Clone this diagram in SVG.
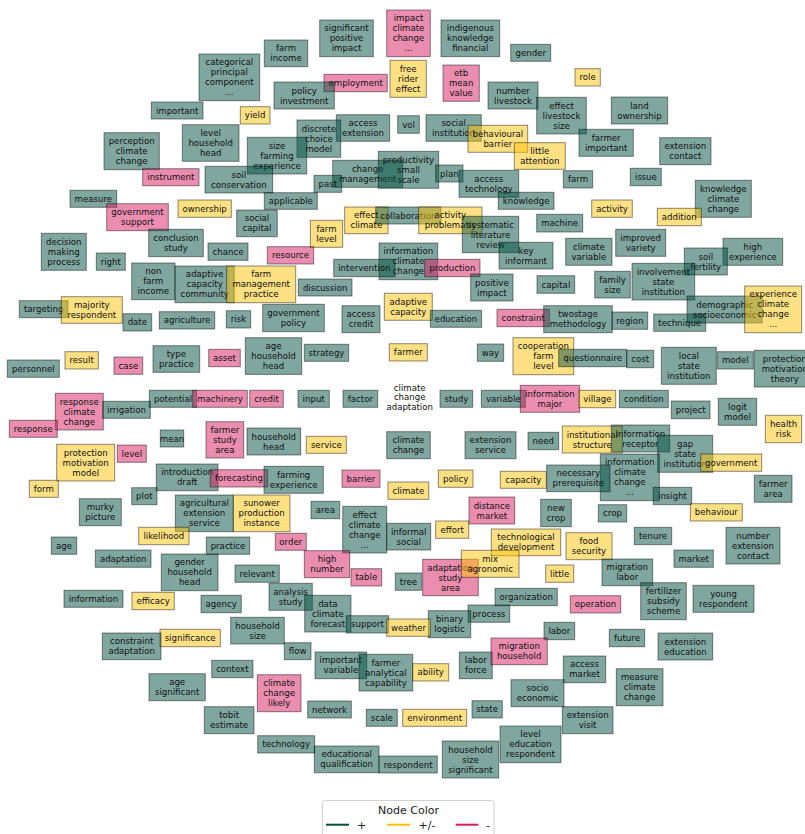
<svg xmlns="http://www.w3.org/2000/svg" width="805" height="834" viewBox="0 0 805 834">
<style>
.g,.y,.p{stroke:#000;stroke-opacity:.45;stroke-width:1}
.g{fill:#004d40;fill-opacity:.5}
.y{fill:#ffc107;fill-opacity:.5}
.p{fill:#d81b60;fill-opacity:.5}
text{font-family:"DejaVu Sans","Liberation Sans",sans-serif;font-size:8.6px;fill:#111;text-anchor:middle}
text.lg{font-size:11px;fill:#222}
</style>
<rect width="805" height="834" fill="#fff"/>
<g id="connectors"></g>
<g id="nodes">
<g id="farm-income"><rect class="g" x="264.3" y="40" width="43.4" height="26.7"/><text x="286" y="51.35">farm<tspan x="286" dy="10">income</tspan></text></g>
<g id="significant-positive-impact"><rect class="g" x="319.7" y="20" width="53.6" height="36.7"/><text x="346.5" y="31.35">significant<tspan x="346.5" dy="10">positive</tspan><tspan x="346.5" dy="10">impact</tspan></text></g>
<g id="impact-climate-change"><rect class="p" x="386.7" y="10" width="43.6" height="46.7"/><text x="408.5" y="21.35">impact<tspan x="408.5" dy="10">climate</tspan><tspan x="408.5" dy="10">change</tspan><tspan x="408.5" dy="10">...</tspan></text></g>
<g id="indigenous-knowledge-financial"><rect class="g" x="441" y="20" width="58.7" height="36.7"/><text x="470.35" y="31.35">indigenous<tspan x="470.35" dy="10">knowledge</tspan><tspan x="470.35" dy="10">financial</tspan></text></g>
<g id="gender"><rect class="g" x="510.7" y="44.3" width="40" height="17"/><text x="530.7" y="55.8">gender</text></g>
<g id="categorical-principal-component"><rect class="g" x="199" y="54" width="60.7" height="46.7"/><text x="229.35" y="65.35">categorical<tspan x="229.35" dy="10">principal</tspan><tspan x="229.35" dy="10">component</tspan><tspan x="229.35" dy="10">...</tspan></text></g>
<g id="employment"><rect class="p" x="324" y="74.3" width="63.3" height="17.4"/><text x="355.65" y="86">employment</text></g>
<g id="free-rider-effect"><rect class="y" x="390" y="60.3" width="36.3" height="37"/><text x="408.15" y="71.8">free<tspan x="408.15" dy="10">rider</tspan><tspan x="408.15" dy="10">effect</tspan></text></g>
<g id="etb-mean-value"><rect class="p" x="443" y="65" width="36.3" height="36.3"/><text x="461.15" y="76.15">etb<tspan x="461.15" dy="10">mean</tspan><tspan x="461.15" dy="10">value</tspan></text></g>
<g id="role"><rect class="y" x="575" y="68.7" width="25.3" height="17.3"/><text x="587.65" y="80.35">role</text></g>
<g id="policy-investment"><rect class="g" x="274" y="82" width="60.3" height="27"/><text x="304.15" y="93.5">policy<tspan x="304.15" dy="10">investment</tspan></text></g>
<g id="number-livestock"><rect class="g" x="488" y="82" width="50" height="27"/><text x="513" y="93.5">number<tspan x="513" dy="10">livestock</tspan></text></g>
<g id="important"><rect class="g" x="151.3" y="102" width="51.7" height="17"/><text x="177.15" y="113.5">important</text></g>
<g id="yield"><rect class="y" x="240.3" y="106.7" width="29.7" height="17.3"/><text x="255.15" y="118.35">yield</text></g>
<g id="effect-livestock-size"><rect class="g" x="536.7" y="97.3" width="49.6" height="36.7"/><text x="561.5" y="108.65">effect<tspan x="561.5" dy="10">livestock</tspan><tspan x="561.5" dy="10">size</tspan></text></g>
<g id="land-ownership"><rect class="g" x="611.3" y="97" width="56.4" height="27"/><text x="639.5" y="108.5">land<tspan x="639.5" dy="10">ownership</tspan></text></g>
<g id="access-extension"><rect class="g" x="336.3" y="114.7" width="53.4" height="26.6"/><text x="363" y="126">access<tspan x="363" dy="10">extension</tspan></text></g>
<g id="vol"><rect class="g" x="397.7" y="115.7" width="21.6" height="17.6"/><text x="408.5" y="127.5">vol</text></g>
<g id="social-institution"><rect class="g" x="426" y="114.7" width="55.3" height="26.6"/><text x="453.65" y="126">social<tspan x="453.65" dy="10">institution</tspan></text></g>
<g id="behavioural-barrier"><rect class="y" x="468" y="125.3" width="59.7" height="27"/><text x="497.85" y="136.8">behavioural<tspan x="497.85" dy="10">barrier</tspan></text></g>
<g id="discrete-choice-model"><rect class="g" x="297" y="120" width="43.7" height="37.3"/><text x="318.85" y="131.65">discrete<tspan x="318.85" dy="10">choice</tspan><tspan x="318.85" dy="10">model</tspan></text></g>
<g id="level-household-head"><rect class="g" x="182.3" y="124.7" width="56.7" height="36.6"/><text x="210.65" y="136">level<tspan x="210.65" dy="10">household</tspan><tspan x="210.65" dy="10">head</tspan></text></g>
<g id="perception-climate-change"><rect class="g" x="104" y="132.7" width="55.3" height="37"/><text x="131.65" y="144.2">perception<tspan x="131.65" dy="10">climate</tspan><tspan x="131.65" dy="10">change</tspan></text></g>
<g id="size-farming-experience"><rect class="g" x="247.3" y="137.3" width="59.4" height="36.7"/><text x="277" y="148.65">size<tspan x="277" dy="10">farming</tspan><tspan x="277" dy="10">experience</tspan></text></g>
<g id="farmer-important"><rect class="g" x="579" y="129.3" width="54.3" height="27"/><text x="606.15" y="140.8">farmer<tspan x="606.15" dy="10">important</tspan></text></g>
<g id="extension-contact"><rect class="g" x="659.7" y="137.7" width="51.3" height="27"/><text x="685.35" y="149.2">extension<tspan x="685.35" dy="10">contact</tspan></text></g>
<g id="little-attention"><rect class="y" x="514.3" y="142.7" width="51" height="26.6"/><text x="539.8" y="154">little<tspan x="539.8" dy="10">attention</tspan></text></g>
<g id="change-management"><rect class="g" x="332.7" y="160.3" width="70" height="27"/><text x="367.7" y="171.8">change<tspan x="367.7" dy="10">management</tspan></text></g>
<g id="productivity-small-scale"><rect class="g" x="378.3" y="151.3" width="60.4" height="37"/><text x="408.5" y="162.8">productivity<tspan x="408.5" dy="10">small</tspan><tspan x="408.5" dy="10">scale</tspan></text></g>
<g id="plan"><rect class="g" x="435.7" y="165" width="27.3" height="17"/><text x="449.35" y="176.5">plan</text></g>
<g id="access-technology"><rect class="g" x="459" y="170.3" width="59.7" height="27"/><text x="488.85" y="181.8">access<tspan x="488.85" dy="10">technology</tspan></text></g>
<g id="farm"><rect class="g" x="563.3" y="170.7" width="29.4" height="17.3"/><text x="578" y="182.35">farm</text></g>
<g id="issue"><rect class="g" x="630.3" y="168.3" width="31" height="17.4"/><text x="645.8" y="180">issue</text></g>
<g id="instrument"><rect class="p" x="142.7" y="168.7" width="56.3" height="17"/><text x="170.85" y="180.2">instrument</text></g>
<g id="soil-conservation"><rect class="g" x="205" y="166.3" width="67.7" height="26.7"/><text x="238.85" y="177.65">soil<tspan x="238.85" dy="10">conservation</tspan></text></g>
<g id="past"><rect class="g" x="314" y="175.3" width="27.7" height="17"/><text x="327.85" y="186.8">past</text></g>
<g id="measure"><rect class="g" x="70" y="190.3" width="46.7" height="17"/><text x="93.35" y="201.8">measure</text></g>
<g id="applicable"><rect class="g" x="264.3" y="192.7" width="53" height="16.6"/><text x="290.8" y="204">applicable</text></g>
<g id="knowledge"><rect class="g" x="498.3" y="192.3" width="55.7" height="17"/><text x="526.15" y="203.8">knowledge</text></g>
<g id="knowledge-climate-change"><rect class="g" x="695.3" y="180.3" width="56" height="37"/><text x="723.3" y="191.8">knowledge<tspan x="723.3" dy="10">climate</tspan><tspan x="723.3" dy="10">change</tspan></text></g>
<g id="government-support"><rect class="p" x="106.7" y="203.7" width="61.6" height="27"/><text x="137.5" y="215.2">government<tspan x="137.5" dy="10">support</tspan></text></g>
<g id="ownership"><rect class="y" x="178" y="200" width="53.3" height="17.3"/><text x="204.65" y="211.65">ownership</text></g>
<g id="effect-climate"><rect class="y" x="344.7" y="207" width="43.3" height="26.7"/><text x="366.35" y="218.35">effect<tspan x="366.35" dy="10">climate</tspan></text></g>
<g id="collaboration"><rect class="g" x="375.7" y="207" width="65.3" height="17"/><text x="408.35" y="218.5">collaboration</text></g>
<g id="activity-problematic"><rect class="y" x="418.7" y="207" width="63.3" height="26.7"/><text x="450.35" y="218.35">activity<tspan x="450.35" dy="10">problematic</tspan></text></g>
<g id="activity"><rect class="y" x="591.7" y="200" width="40.6" height="17.3"/><text x="612" y="211.65">activity</text></g>
<g id="addition"><rect class="y" x="657.3" y="208.3" width="44" height="17.4"/><text x="679.3" y="220">addition</text></g>
<g id="machine"><rect class="g" x="536.7" y="214.3" width="46" height="17.7"/><text x="559.7" y="226.15">machine</text></g>
<g id="systematic-literature-review"><rect class="g" x="462.3" y="216.3" width="56.4" height="36.4"/><text x="490.5" y="227.5">systematic<tspan x="490.5" dy="10">literature</tspan><tspan x="490.5" dy="10">review</tspan></text></g>
<g id="social-capital"><rect class="g" x="236.7" y="210" width="40.6" height="26.7"/><text x="257" y="221.35">social<tspan x="257" dy="10">capital</tspan></text></g>
<g id="farm-level"><rect class="y" x="310.3" y="220.3" width="32.4" height="27"/><text x="326.5" y="231.8">farm<tspan x="326.5" dy="10">level</tspan></text></g>
<g id="conclusion-study"><rect class="g" x="148.7" y="229.3" width="54.6" height="27.4"/><text x="176" y="241">conclusion<tspan x="176" dy="10">study</tspan></text></g>
<g id="decision-making-process"><rect class="g" x="41.3" y="233.3" width="45" height="37"/><text x="63.8" y="244.8">decision<tspan x="63.8" dy="10">making</tspan><tspan x="63.8" dy="10">process</tspan></text></g>
<g id="chance"><rect class="g" x="208" y="243" width="40" height="17.3"/><text x="228" y="254.65">chance</text></g>
<g id="resource"><rect class="p" x="267.3" y="246.7" width="46.4" height="17.3"/><text x="290.5" y="258.35">resource</text></g>
<g id="improved-variety"><rect class="g" x="615.7" y="229.3" width="50" height="27"/><text x="640.7" y="240.8">improved<tspan x="640.7" dy="10">variety</tspan></text></g>
<g id="climate-variable"><rect class="g" x="565.7" y="238.3" width="46.3" height="27"/><text x="588.85" y="249.8">climate<tspan x="588.85" dy="10">variable</tspan></text></g>
<g id="key-informant"><rect class="g" x="499" y="242.3" width="54" height="26.7"/><text x="526" y="253.65">key<tspan x="526" dy="10">informant</tspan></text></g>
<g id="high-experience"><rect class="g" x="723" y="238.3" width="59.7" height="27"/><text x="752.85" y="249.8">high<tspan x="752.85" dy="10">experience</tspan></text></g>
<g id="information-climate-change"><rect class="g" x="379" y="243" width="58.7" height="36.7"/><text x="408.35" y="254.35">information<tspan x="408.35" dy="10">climate</tspan><tspan x="408.35" dy="10">change</tspan></text></g>
<g id="production"><rect class="p" x="424.7" y="259.3" width="55.3" height="17.4"/><text x="452.35" y="271">production</text></g>
<g id="soil-fertility"><rect class="g" x="684.3" y="248" width="43" height="27"/><text x="705.8" y="259.5">soil<tspan x="705.8" dy="10">fertility</tspan></text></g>
<g id="right"><rect class="g" x="96.3" y="253" width="29" height="17.3"/><text x="110.8" y="264.65">right</text></g>
<g id="intervention"><rect class="g" x="333.7" y="259.3" width="61.3" height="17.4"/><text x="364.35" y="271">intervention</text></g>
<g id="non-farm-income"><rect class="g" x="131.7" y="263" width="43.3" height="36.7"/><text x="153.35" y="274.35">non<tspan x="153.35" dy="10">farm</tspan><tspan x="153.35" dy="10">income</tspan></text></g>
<g id="adaptive-capacity-community"><rect class="g" x="175" y="266" width="59.3" height="36.7"/><text x="204.65" y="277.35">adaptive<tspan x="204.65" dy="10">capacity</tspan><tspan x="204.65" dy="10">community</tspan></text></g>
<g id="farm-management-practice"><rect class="y" x="226.7" y="266" width="69" height="36.7"/><text x="261.2" y="277.35">farm<tspan x="261.2" dy="10">management</tspan><tspan x="261.2" dy="10">practice</tspan></text></g>
<g id="discussion"><rect class="g" x="298.3" y="279" width="53.7" height="17"/><text x="325.15" y="290.5">discussion</text></g>
<g id="positive-impact"><rect class="g" x="470.7" y="274" width="42.3" height="27"/><text x="491.85" y="285.5">positive<tspan x="491.85" dy="10">impact</tspan></text></g>
<g id="capital"><rect class="g" x="537" y="275.7" width="37.7" height="17.6"/><text x="555.85" y="287.5">capital</text></g>
<g id="family-size"><rect class="g" x="594.7" y="271.3" width="35.6" height="26.7"/><text x="612.5" y="282.65">family<tspan x="612.5" dy="10">size</tspan></text></g>
<g id="involvement-state-institution"><rect class="g" x="632" y="263.3" width="62.7" height="36.7"/><text x="663.35" y="274.65">involvement<tspan x="663.35" dy="10">state</tspan><tspan x="663.35" dy="10">institution</tspan></text></g>
<g id="targeting"><rect class="g" x="19.3" y="300.7" width="48.7" height="17"/><text x="43.65" y="312.2">targeting</text></g>
<g id="majority-respondent"><rect class="y" x="61.3" y="296.7" width="61" height="26.6"/><text x="91.8" y="308">majority<tspan x="91.8" dy="10">respondent</tspan></text></g>
<g id="date"><rect class="g" x="123" y="313.7" width="28.7" height="17.3"/><text x="137.35" y="325.35">date</text></g>
<g id="agriculture"><rect class="g" x="159.3" y="311.7" width="55.4" height="17.3"/><text x="187" y="323.35">agriculture</text></g>
<g id="risk"><rect class="g" x="226.3" y="310.7" width="24.4" height="17.3"/><text x="238.5" y="322.35">risk</text></g>
<g id="government-policy"><rect class="g" x="262.7" y="304.3" width="61.6" height="27.4"/><text x="293.5" y="316">government<tspan x="293.5" dy="10">policy</tspan></text></g>
<g id="access-credit"><rect class="g" x="342" y="305.7" width="38" height="27"/><text x="361" y="317.2">access<tspan x="361" dy="10">credit</tspan></text></g>
<g id="adaptive-capacity"><rect class="y" x="384.3" y="293.3" width="48" height="27"/><text x="408.3" y="304.8">adaptive<tspan x="408.3" dy="10">capacity</tspan></text></g>
<g id="education"><rect class="g" x="430.3" y="310.3" width="51.3" height="17"/><text x="455.95" y="321.8">education</text></g>
<g id="constraint"><rect class="p" x="497" y="309.3" width="52.3" height="17.4"/><text x="523.15" y="321">constraint</text></g>
<g id="twostage-methodology"><rect class="g" x="543.7" y="305.7" width="68.6" height="27"/><text x="578" y="317.2">twostage<tspan x="578" dy="10">methodology</tspan></text></g>
<g id="region"><rect class="g" x="612" y="312" width="35.7" height="17.3"/><text x="629.85" y="323.65">region</text></g>
<g id="technique"><rect class="g" x="653.7" y="314" width="52" height="17.3"/><text x="679.7" y="325.65">technique</text></g>
<g id="demographic-socioeconomic"><rect class="g" x="687" y="296" width="75.3" height="27"/><text x="724.65" y="307.5">demographic<tspan x="724.65" dy="10">socioeconomic</tspan></text></g>
<g id="experience-climate-change"><rect class="y" x="744.7" y="286" width="57" height="46.7"/><text x="773.2" y="297.35">experience<tspan x="773.2" dy="10">climate</tspan><tspan x="773.2" dy="10">change</tspan><tspan x="773.2" dy="10">...</tspan></text></g>
<g id="personnel"><rect class="g" x="7.3" y="360" width="52" height="17.3"/><text x="33.3" y="371.65">personnel</text></g>
<g id="result"><rect class="y" x="65" y="351.7" width="33.3" height="17.3"/><text x="81.65" y="363.35">result</text></g>
<g id="case"><rect class="p" x="114" y="357" width="28.7" height="17.3"/><text x="128.35" y="368.65">case</text></g>
<g id="type-practice"><rect class="g" x="153" y="345.7" width="46.7" height="26.6"/><text x="176.35" y="357">type<tspan x="176.35" dy="10">practice</tspan></text></g>
<g id="asset"><rect class="p" x="208.7" y="349.3" width="31.6" height="17.4"/><text x="224.5" y="361">asset</text></g>
<g id="age-household-head"><rect class="g" x="245.3" y="337.7" width="56.4" height="36.7"/><text x="273.5" y="349.05">age<tspan x="273.5" dy="10">household</tspan><tspan x="273.5" dy="10">head</tspan></text></g>
<g id="strategy"><rect class="g" x="304.3" y="344.3" width="44.4" height="17"/><text x="326.5" y="355.8">strategy</text></g>
<g id="farmer"><rect class="y" x="389.3" y="343.7" width="38" height="17.3"/><text x="408.3" y="355.35">farmer</text></g>
<g id="way"><rect class="g" x="477.3" y="344" width="26.4" height="17.3"/><text x="490.5" y="355.65">way</text></g>
<g id="cooperation-farm-level"><rect class="y" x="513" y="337.7" width="60.7" height="37"/><text x="543.35" y="349.2">cooperation<tspan x="543.35" dy="10">farm</tspan><tspan x="543.35" dy="10">level</tspan></text></g>
<g id="questionnaire"><rect class="g" x="558.7" y="349.3" width="68" height="17.4"/><text x="592.7" y="361">questionnaire</text></g>
<g id="cost"><rect class="g" x="626.7" y="350.3" width="27" height="17.4"/><text x="640.2" y="362">cost</text></g>
<g id="local-state-institution"><rect class="g" x="661.3" y="347.3" width="55" height="37"/><text x="688.8" y="358.8">local<tspan x="688.8" dy="10">state</tspan><tspan x="688.8" dy="10">institution</tspan></text></g>
<g id="model"><rect class="g" x="717.3" y="351.7" width="36" height="17.3"/><text x="735.3" y="363.35">model</text></g>
<g id="protection-motivation-theory"><rect class="g" x="754.3" y="350.3" width="61" height="36.7"/><text x="784.8" y="361.65">protection<tspan x="784.8" dy="10">motivation</tspan><tspan x="784.8" dy="10">theory</tspan></text></g>
<g id="response-climate-change"><rect class="p" x="55.3" y="393.3" width="48" height="36.7"/><text x="79.3" y="404.65">response<tspan x="79.3" dy="10">climate</tspan><tspan x="79.3" dy="10">change</tspan></text></g>
<g id="irrigation"><rect class="g" x="102.7" y="401.3" width="47.6" height="17"/><text x="126.5" y="412.8">irrigation</text></g>
<g id="response"><rect class="p" x="9.3" y="420.3" width="48" height="17"/><text x="33.3" y="431.8">response</text></g>
<g id="potential"><rect class="g" x="149.3" y="390.3" width="47.4" height="17"/><text x="173" y="401.8">potential</text></g>
<g id="machinery"><rect class="p" x="192.7" y="390.3" width="54.6" height="17"/><text x="220" y="401.8">machinery</text></g>
<g id="credit"><rect class="p" x="249.7" y="390.3" width="33.6" height="17"/><text x="266.5" y="401.8">credit</text></g>
<g id="input"><rect class="g" x="298" y="390.3" width="31.3" height="17"/><text x="313.65" y="401.8">input</text></g>
<g id="factor"><rect class="g" x="343" y="390.3" width="34.7" height="17"/><text x="360.35" y="401.8">factor</text></g>
<g id="climate-change-adaptation"><text x="409.7" y="390.6">climate<tspan x="409.7" dy="9.8">change</tspan><tspan x="409.7" dy="9.8">adaptation</tspan></text></g>
<g id="study"><rect class="g" x="440" y="390.3" width="32.7" height="17"/><text x="456.35" y="401.8">study</text></g>
<g id="variable"><rect class="g" x="481.3" y="390.3" width="44" height="17"/><text x="503.3" y="401.8">variable</text></g>
<g id="information-major"><rect class="p" x="520.3" y="385.3" width="59.4" height="27"/><text x="550" y="396.8">information<tspan x="550" dy="10">major</tspan></text></g>
<g id="village"><rect class="y" x="579" y="390.3" width="36.7" height="17.4"/><text x="597.35" y="402">village</text></g>
<g id="condition"><rect class="g" x="619.3" y="390.3" width="49" height="17.4"/><text x="643.8" y="402">condition</text></g>
<g id="project"><rect class="g" x="671.3" y="401" width="38.7" height="17.7"/><text x="690.65" y="412.85">project</text></g>
<g id="logit-model"><rect class="g" x="718.3" y="398.3" width="38.4" height="27"/><text x="737.5" y="409.8">logit<tspan x="737.5" dy="10">model</tspan></text></g>
<g id="health-risk"><rect class="y" x="765.3" y="415.3" width="36.4" height="27.4"/><text x="783.5" y="427">health<tspan x="783.5" dy="10">risk</tspan></text></g>
<g id="mean"><rect class="g" x="160.3" y="430" width="23.4" height="17"/><text x="172" y="441.5">mean</text></g>
<g id="farmer-study-area"><rect class="p" x="206" y="421.7" width="37.7" height="36.3"/><text x="224.85" y="432.85">farmer<tspan x="224.85" dy="10">study</tspan><tspan x="224.85" dy="10">area</tspan></text></g>
<g id="household-head"><rect class="g" x="247" y="428" width="53.7" height="27"/><text x="273.85" y="439.5">household<tspan x="273.85" dy="10">head</tspan></text></g>
<g id="service"><rect class="y" x="306.3" y="436.3" width="40" height="17"/><text x="326.3" y="447.8">service</text></g>
<g id="climate-change"><rect class="g" x="386.7" y="431.7" width="43.6" height="27"/><text x="408.5" y="443.2">climate<tspan x="408.5" dy="10">change</tspan></text></g>
<g id="extension-service"><rect class="g" x="465" y="431.7" width="51" height="27"/><text x="490.5" y="443.2">extension<tspan x="490.5" dy="10">service</tspan></text></g>
<g id="need"><rect class="g" x="528" y="432.3" width="30.7" height="17.4"/><text x="543.35" y="444">need</text></g>
<g id="institutional-structure"><rect class="y" x="562.3" y="426" width="60" height="27"/><text x="592.3" y="437.5">institutional<tspan x="592.3" dy="10">structure</tspan></text></g>
<g id="information-receptor"><rect class="g" x="611.3" y="425" width="58.4" height="27"/><text x="640.5" y="436.5">information<tspan x="640.5" dy="10">receptor</tspan></text></g>
<g id="gap-state-institution"><rect class="g" x="657.7" y="435.3" width="55" height="37"/><text x="685.2" y="446.8">gap<tspan x="685.2" dy="10">state</tspan><tspan x="685.2" dy="10">institution</tspan></text></g>
<g id="government"><rect class="y" x="700.7" y="454" width="61" height="17.3"/><text x="731.2" y="465.65">government</text></g>
<g id="information-climate-change-more"><rect class="g" x="600.3" y="454" width="59" height="46.7"/><text x="629.8" y="465.35">information<tspan x="629.8" dy="10">climate</tspan><tspan x="629.8" dy="10">change</tspan><tspan x="629.8" dy="10">...</tspan></text></g>
<g id="necessary-prerequisite"><rect class="g" x="546.7" y="465" width="63.3" height="26.7"/><text x="578.35" y="476.35">necessary<tspan x="578.35" dy="10">prerequisite</tspan></text></g>
<g id="capacity"><rect class="y" x="500.3" y="471.3" width="46" height="17"/><text x="523.3" y="482.8">capacity</text></g>
<g id="insight"><rect class="g" x="653.3" y="487.3" width="38.4" height="17.4"/><text x="672.5" y="499">insight</text></g>
<g id="behaviour"><rect class="y" x="690.3" y="503.7" width="52" height="17.3"/><text x="716.3" y="515.35">behaviour</text></g>
<g id="farmer-area"><rect class="g" x="754.3" y="475.3" width="37.7" height="27"/><text x="773.15" y="486.8">farmer<tspan x="773.15" dy="10">area</tspan></text></g>
<g id="new-crop"><rect class="g" x="540.7" y="499.3" width="30.6" height="27.4"/><text x="556" y="511">new<tspan x="556" dy="10">crop</tspan></text></g>
<g id="crop"><rect class="g" x="598.3" y="504.7" width="28.4" height="17.3"/><text x="612.5" y="516.35">crop</text></g>
<g id="tenure"><rect class="g" x="634.3" y="527.3" width="37.4" height="17.4"/><text x="653" y="539">tenure</text></g>
<g id="number-extension-contact"><rect class="g" x="726" y="527.3" width="54" height="36.7"/><text x="753" y="538.65">number<tspan x="753" dy="10">extension</tspan><tspan x="753" dy="10">contact</tspan></text></g>
<g id="protection-motivation-model"><rect class="y" x="56.7" y="444.3" width="58" height="36.7"/><text x="85.7" y="455.65">protection<tspan x="85.7" dy="10">motivation</tspan><tspan x="85.7" dy="10">model</tspan></text></g>
<g id="level"><rect class="p" x="117.3" y="445" width="29" height="17.3"/><text x="131.8" y="456.65">level</text></g>
<g id="form"><rect class="y" x="29.3" y="480.3" width="29" height="17"/><text x="43.8" y="491.8">form</text></g>
<g id="introduction-draft"><rect class="g" x="156.3" y="464" width="61.7" height="26.7"/><text x="187.15" y="475.35">introduction<tspan x="187.15" dy="10">draft</tspan></text></g>
<g id="forecasting"><rect class="p" x="210.3" y="469.7" width="57.4" height="17.3"/><text x="239" y="481.35">forecasting</text></g>
<g id="farming-experience"><rect class="g" x="264" y="466.3" width="59.3" height="27"/><text x="293.65" y="477.8">farming<tspan x="293.65" dy="10">experience</tspan></text></g>
<g id="barrier"><rect class="p" x="342" y="470" width="38" height="17.3"/><text x="361" y="481.65">barrier</text></g>
<g id="policy"><rect class="y" x="438.3" y="470" width="34.7" height="17.3"/><text x="455.65" y="481.65">policy</text></g>
<g id="climate"><rect class="y" x="388" y="482" width="40.7" height="17.3"/><text x="408.35" y="493.65">climate</text></g>
<g id="distance-market"><rect class="p" x="469" y="497" width="45.7" height="27"/><text x="491.85" y="508.5">distance<tspan x="491.85" dy="10">market</tspan></text></g>
<g id="plot"><rect class="g" x="131.7" y="487.7" width="25.3" height="17"/><text x="144.35" y="499.2">plot</text></g>
<g id="murky-picture"><rect class="g" x="79.3" y="498.7" width="42" height="27"/><text x="100.3" y="510.2">murky<tspan x="100.3" dy="10">picture</tspan></text></g>
<g id="agricultural-extension-service"><rect class="g" x="175.3" y="495" width="58" height="36.7"/><text x="204.3" y="506.35">agricultural<tspan x="204.3" dy="10">extension</tspan><tspan x="204.3" dy="10">service</tspan></text></g>
<g id="sunower-production-instance"><rect class="y" x="233.3" y="495" width="56.7" height="36.7"/><text x="261.65" y="506.35">sunower<tspan x="261.65" dy="10">production</tspan><tspan x="261.65" dy="10">instance</tspan></text></g>
<g id="area"><rect class="g" x="311" y="501.3" width="28.7" height="17.4"/><text x="325.35" y="513">area</text></g>
<g id="effect-climate-change"><rect class="g" x="342.7" y="506.3" width="44" height="46.7"/><text x="364.7" y="517.65">effect<tspan x="364.7" dy="10">climate</tspan><tspan x="364.7" dy="10">change</tspan><tspan x="364.7" dy="10">...</tspan></text></g>
<g id="informal-social"><rect class="g" x="386.7" y="523.3" width="44" height="26.7"/><text x="408.7" y="534.65">informal<tspan x="408.7" dy="10">social</tspan></text></g>
<g id="effort"><rect class="y" x="435.7" y="521" width="33" height="17.3"/><text x="452.2" y="532.65">effort</text></g>
<g id="technological-development"><rect class="y" x="491.3" y="529" width="69.4" height="26.7"/><text x="526" y="540.35">technological<tspan x="526" dy="10">development</tspan></text></g>
<g id="food-security"><rect class="y" x="566" y="532.7" width="46" height="27"/><text x="589" y="544.2">food<tspan x="589" dy="10">security</tspan></text></g>
<g id="likelihood"><rect class="y" x="138.7" y="527.3" width="50.3" height="17.4"/><text x="163.85" y="539">likelihood</text></g>
<g id="age"><rect class="g" x="51.3" y="537" width="25.4" height="17.3"/><text x="64" y="548.65">age</text></g>
<g id="practice"><rect class="g" x="206.3" y="537" width="43.4" height="17.3"/><text x="228" y="548.65">practice</text></g>
<g id="order"><rect class="p" x="275.3" y="533.3" width="31" height="17"/><text x="290.8" y="544.8">order</text></g>
<g id="adaptation"><rect class="g" x="95.3" y="550" width="55.7" height="17.3"/><text x="123.15" y="561.65">adaptation</text></g>
<g id="gender-household-head"><rect class="g" x="161.3" y="554" width="56.7" height="36.7"/><text x="189.65" y="565.35">gender<tspan x="189.65" dy="10">household</tspan><tspan x="189.65" dy="10">head</tspan></text></g>
<g id="relevant"><rect class="g" x="235" y="565" width="44.3" height="17.3"/><text x="257.15" y="576.65">relevant</text></g>
<g id="high-number"><rect class="p" x="304.3" y="550.7" width="45.4" height="27"/><text x="327" y="562.2">high<tspan x="327" dy="10">number</tspan></text></g>
<g id="table"><rect class="p" x="351" y="568.7" width="30.7" height="17.3"/><text x="366.35" y="580.35">table</text></g>
<g id="tree"><rect class="g" x="395.3" y="573" width="26.4" height="17.3"/><text x="408.5" y="584.65">tree</text></g>
<g id="adaptation-study-area"><rect class="p" x="422.7" y="559.3" width="55.6" height="36.4"/><text x="450.5" y="570.5">adaptation<tspan x="450.5" dy="10">study</tspan><tspan x="450.5" dy="10">area</tspan></text></g>
<g id="mix-agronomic"><rect class="y" x="461.3" y="550.3" width="57.7" height="27"/><text x="490.15" y="561.8">mix<tspan x="490.15" dy="10">agronomic</tspan></text></g>
<g id="market"><rect class="g" x="674" y="550" width="39.3" height="17.3"/><text x="693.65" y="561.65">market</text></g>
<g id="little"><rect class="y" x="545.7" y="565" width="28" height="17.3"/><text x="559.7" y="576.65">little</text></g>
<g id="migration-labor"><rect class="g" x="602" y="559" width="50.7" height="26.7"/><text x="627.35" y="570.35">migration<tspan x="627.35" dy="10">labor</tspan></text></g>
<g id="information"><rect class="g" x="64" y="590.3" width="59" height="17"/><text x="93.5" y="601.8">information</text></g>
<g id="efficacy"><rect class="y" x="132" y="592.3" width="42.3" height="17.4"/><text x="153.15" y="604">efficacy</text></g>
<g id="agency"><rect class="g" x="201" y="595.3" width="40.3" height="17.4"/><text x="221.15" y="607">agency</text></g>
<g id="analysis-study"><rect class="g" x="269" y="583.3" width="43.3" height="27"/><text x="290.65" y="594.8">analysis<tspan x="290.65" dy="10">study</tspan></text></g>
<g id="data-climate-forecast"><rect class="g" x="304.7" y="595.3" width="46.3" height="36.7"/><text x="327.85" y="606.65">data<tspan x="327.85" dy="10">climate</tspan><tspan x="327.85" dy="10">forecast</tspan></text></g>
<g id="organization"><rect class="g" x="495" y="588.3" width="62.3" height="17.4"/><text x="526.15" y="600">organization</text></g>
<g id="operation"><rect class="p" x="570.3" y="595.7" width="50.4" height="17.3"/><text x="595.5" y="607.35">operation</text></g>
<g id="fertilizer-subsidy-scheme"><rect class="g" x="640.7" y="582.7" width="45.6" height="37"/><text x="663.5" y="594.2">fertilizer<tspan x="663.5" dy="10">subsidy</tspan><tspan x="663.5" dy="10">scheme</tspan></text></g>
<g id="young-respondent"><rect class="g" x="693" y="585.3" width="61" height="27"/><text x="723.5" y="596.8">young<tspan x="723.5" dy="10">respondent</tspan></text></g>
<g id="process"><rect class="g" x="468" y="605" width="41.7" height="17.3"/><text x="488.85" y="616.65">process</text></g>
<g id="binary-logistic"><rect class="g" x="428.3" y="610.7" width="42.4" height="27"/><text x="449.5" y="622.2">binary<tspan x="449.5" dy="10">logistic</tspan></text></g>
<g id="support"><rect class="g" x="346.3" y="615.7" width="42.4" height="17.3"/><text x="367.5" y="627.35">support</text></g>
<g id="weather"><rect class="y" x="386.7" y="619" width="43.6" height="17.3"/><text x="408.5" y="630.65">weather</text></g>
<g id="household-size"><rect class="g" x="230.7" y="617.3" width="53.6" height="26.7"/><text x="257.5" y="628.65">household<tspan x="257.5" dy="10">size</tspan></text></g>
<g id="significance"><rect class="y" x="160" y="629.3" width="60.3" height="17.4"/><text x="190.15" y="641">significance</text></g>
<g id="constraint-adaptation"><rect class="g" x="102.3" y="633" width="58.7" height="26.7"/><text x="131.65" y="644.35">constraint<tspan x="131.65" dy="10">adaptation</tspan></text></g>
<g id="labor"><rect class="g" x="544" y="622.3" width="30.7" height="17.4"/><text x="559.35" y="634">labor</text></g>
<g id="future"><rect class="g" x="609.3" y="629.3" width="35.4" height="17.4"/><text x="627" y="641">future</text></g>
<g id="extension-education"><rect class="g" x="658" y="633" width="54.7" height="27"/><text x="685.35" y="644.5">extension<tspan x="685.35" dy="10">education</tspan></text></g>
<g id="flow"><rect class="g" x="284.3" y="642.7" width="26.7" height="17"/><text x="297.65" y="654.2">flow</text></g>
<g id="important-variable"><rect class="g" x="315" y="652" width="51.7" height="26.7"/><text x="340.85" y="663.35">important<tspan x="340.85" dy="10">variable</tspan></text></g>
<g id="farmer-analytical-capability"><rect class="g" x="359" y="654.3" width="53.7" height="36.7"/><text x="385.85" y="665.65">farmer<tspan x="385.85" dy="10">analytical</tspan><tspan x="385.85" dy="10">capability</tspan></text></g>
<g id="ability"><rect class="y" x="412.7" y="663.7" width="36" height="17.3"/><text x="430.7" y="675.35">ability</text></g>
<g id="labor-force"><rect class="g" x="459.3" y="652" width="33" height="26.7"/><text x="475.8" y="663.35">labor<tspan x="475.8" dy="10">force</tspan></text></g>
<g id="migration-household"><rect class="p" x="491" y="638" width="56.3" height="26.7"/><text x="519.15" y="649.35">migration<tspan x="519.15" dy="10">household</tspan></text></g>
<g id="context"><rect class="g" x="211.7" y="660.3" width="41.3" height="17.4"/><text x="232.35" y="672">context</text></g>
<g id="access-market"><rect class="g" x="563.3" y="656" width="42.4" height="26.7"/><text x="584.5" y="667.35">access<tspan x="584.5" dy="10">market</tspan></text></g>
<g id="age-significant"><rect class="g" x="149" y="673.7" width="56.3" height="27"/><text x="177.15" y="685.2">age<tspan x="177.15" dy="10">significant</tspan></text></g>
<g id="climate-change-likely"><rect class="p" x="257.3" y="674.7" width="43.7" height="37"/><text x="279.15" y="686.2">climate<tspan x="279.15" dy="10">change</tspan><tspan x="279.15" dy="10">likely</tspan></text></g>
<g id="measure-climate-change"><rect class="g" x="616.3" y="668.7" width="46.7" height="37"/><text x="639.65" y="680.2">measure<tspan x="639.65" dy="10">climate</tspan><tspan x="639.65" dy="10">change</tspan></text></g>
<g id="socio-economic"><rect class="g" x="511" y="679.7" width="53" height="27"/><text x="537.5" y="691.2">socio<tspan x="537.5" dy="10">economic</tspan></text></g>
<g id="network"><rect class="g" x="307.7" y="701" width="43.6" height="17"/><text x="329.5" y="712.5">network</text></g>
<g id="state"><rect class="g" x="472" y="700.7" width="30.3" height="17.3"/><text x="487.15" y="712.35">state</text></g>
<g id="scale"><rect class="g" x="366.3" y="709.3" width="31" height="17"/><text x="381.8" y="720.8">scale</text></g>
<g id="environment"><rect class="y" x="402.7" y="709.3" width="64" height="17"/><text x="434.7" y="720.8">environment</text></g>
<g id="tobit-estimate"><rect class="g" x="204.3" y="706.7" width="49.7" height="27"/><text x="229.15" y="718.2">tobit<tspan x="229.15" dy="10">estimate</tspan></text></g>
<g id="extension-visit"><rect class="g" x="562.3" y="706.7" width="50.7" height="27"/><text x="587.65" y="718.2">extension<tspan x="587.65" dy="10">visit</tspan></text></g>
<g id="level-education-respondent"><rect class="g" x="500" y="726" width="61" height="36.7"/><text x="530.5" y="737.35">level<tspan x="530.5" dy="10">education</tspan><tspan x="530.5" dy="10">respondent</tspan></text></g>
<g id="technology"><rect class="g" x="257.7" y="735.7" width="57" height="17.3"/><text x="286.2" y="747.35">technology</text></g>
<g id="educational-qualification"><rect class="g" x="314.3" y="746" width="64.7" height="26.7"/><text x="346.65" y="757.35">educational<tspan x="346.65" dy="10">qualification</tspan></text></g>
<g id="respondent"><rect class="g" x="379" y="756" width="58.3" height="17"/><text x="408.15" y="767.5">respondent</text></g>
<g id="household-size-significant"><rect class="g" x="442.3" y="741" width="56.4" height="37"/><text x="470.5" y="752.5">household<tspan x="470.5" dy="10">size</tspan><tspan x="470.5" dy="10">significant</tspan></text></g>
</g>
<g id="legend">
<rect x="322.5" y="800.5" width="171.5" height="40" rx="3" fill="#fff" fill-opacity=".8" stroke="#d0d0d0"/>
<text class="lg" x="408.5" y="813.5">Node Color</text>
<line x1="326" y1="824.7" x2="349" y2="824.7" stroke="#004d40" stroke-width="2"/>
<text class="lg" x="361.5" y="828.5">+</text>
<line x1="387" y1="824.7" x2="410" y2="824.7" stroke="#ffc107" stroke-width="2"/>
<text class="lg" x="427" y="828.5">+/-</text>
<line x1="455.7" y1="824.7" x2="478.3" y2="824.7" stroke="#d81b60" stroke-width="2"/>
<text class="lg" x="488" y="828.5">-</text>
</g>
</svg>
